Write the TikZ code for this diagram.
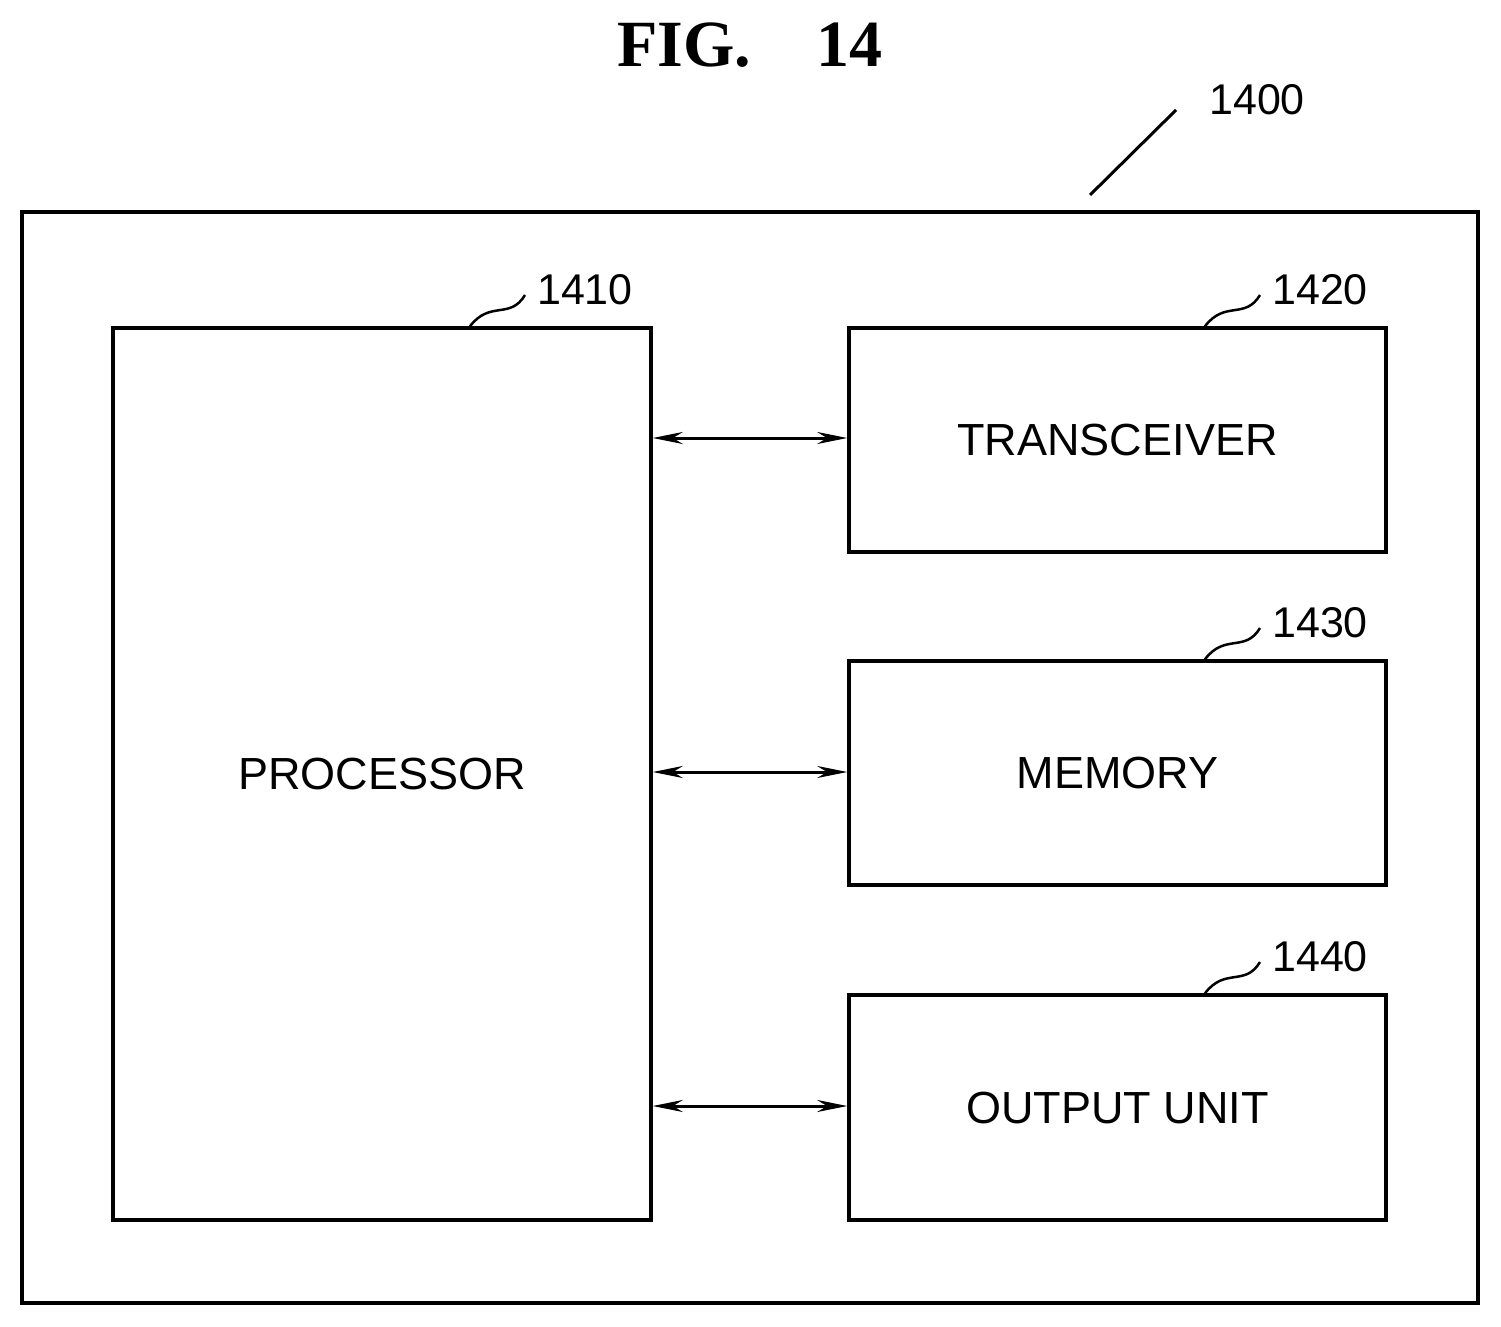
\documentclass[tikz,border=0pt]{standalone}
\usepackage{fontspec}
\setmainfont{Liberation Sans}
\newfontfamily\titlefont{Liberation Serif}
\usetikzlibrary{arrows.meta}
\begin{document}
\begin{tikzpicture}[x=1pt,y=-1pt,
  box/.style={draw,line width=3.5pt,inner sep=0pt,font=\fontsize{45}{50}\selectfont},
  lbl/.style={font=\fontsize{43}{48}\selectfont},
  conn/.style={line width=3pt,{Stealth[length=30pt,width=12pt]}-{Stealth[length=30pt,width=12pt]}},
  lead/.style={line width=2.5pt}]
\useasboundingbox (0,0) rectangle (1501,1327);
\node[font=\titlefont\bfseries\fontsize{66}{70}\selectfont] (title) at (750,45) {FIG.\quad 14};
\node[box,minimum width=1456pt,minimum height=1091pt] (outer) at (750,757.5) {};
\node[box,minimum width=538pt,minimum height=892pt] (proc) at (382,774) {PROCESSOR};
\node[box,minimum width=537pt,minimum height=224pt] (trx) at (1117.5,440) {TRANSCEIVER};
\node[box,minimum width=537pt,minimum height=224pt] (mem) at (1117.5,773) {MEMORY};
\node[box,minimum width=537pt,minimum height=225pt] (out) at (1117.5,1107.5) {OUTPUT UNIT};
\draw[conn] (proc.east |- 0,438) -- (trx.west |- 0,438);
\draw[conn] (proc.east |- 0,772) -- (mem.west |- 0,772);
\draw[conn] (proc.east |- 0,1106) -- (out.west |- 0,1106);
\node[lbl] (l1400) at (1257,100) {1400};
\coordinate (c1400) at (1090,195);
\draw[line width=3pt] (c1400) -- (1176,110);
\node[lbl] (l1410) at (585,290) {1410};
\draw[lead] (proc.north -| 470,0) .. controls (490,300) and (510,320) .. (525,295);
\node[lbl] (l1420) at (1320,290) {1420};
\draw[lead] (trx.north -| 1205,0) .. controls (1225,300) and (1245,320) .. (1260,295);
\node[lbl] (l1430) at (1320,623) {1430};
\draw[lead] (mem.north -| 1205,0) .. controls (1225,633) and (1245,653) .. (1260,628);
\node[lbl] (l1440) at (1320,957) {1440};
\draw[lead] (out.north -| 1205,0) .. controls (1225,967) and (1245,987) .. (1260,962);
\end{tikzpicture}
\end{document}
